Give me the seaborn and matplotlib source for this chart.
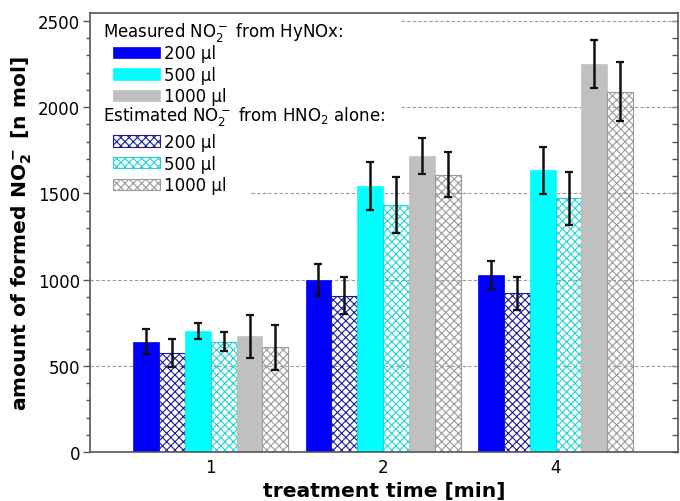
import matplotlib
matplotlib.use("Agg")
import matplotlib.pyplot as plt
from matplotlib.ticker import MultipleLocator
import pandas as pd
import seaborn as sns

# Treatment times (categories on the x axis)
times = ["1", "2", "4"]
volume_labels = ["200 µl", "500 µl", "1000 µl"]

# Measured NO2- from HyNOx [n mol]
measured_200 = [640, 997, 1026]
measured_500 = [702, 1541, 1633]
measured_1000 = [670, 1717, 2251]
measured_200_err = [72, 92, 83]
measured_500_err = [45, 138, 135]
measured_1000_err = [123, 104, 139]

# Estimated NO2- from HNO2 alone [n mol]
estimated_200 = [575, 907, 920]
estimated_500 = [640, 1430, 1471]
estimated_1000 = [607, 1608, 2089]
estimated_200_err = [80, 105, 97]
estimated_500_err = [55, 163, 155]
estimated_1000_err = [131, 130, 173]

series = {
    "m200": (measured_200, measured_200_err),
    "e200": (estimated_200, estimated_200_err),
    "m500": (measured_500, measured_500_err),
    "e500": (estimated_500, estimated_500_err),
    "m1000": (measured_1000, measured_1000_err),
    "e1000": (estimated_1000, estimated_1000_err),
}
series_order = list(series.keys())

# (solid?, colour) for each series
styles = {
    "m200": (True, "#0000ff"),
    "e200": (False, "#1c1c99"),
    "m500": (True, "#00ffff"),
    "e500": (False, "#1fd3d3"),
    "m1000": (True, "#c0c0c0"),
    "e1000": (False, "#9a9a9a"),
}

rows = []
for key in series_order:
    vals, errs = series[key]
    for t, v, e in zip(times, vals, errs):
        rows.append({"time": t, "series": key, "amount": v, "err": e})
df = pd.DataFrame(rows)

sns.set_theme(style="ticks")
plt.rcParams.update({
    "font.family": ["DejaVu Sans"],
    "text.color": "black",
    "axes.labelcolor": "black",
    "hatch.linewidth": 0.8,
    "axes.edgecolor": "#555555",
    "axes.linewidth": 1.2,
    "xtick.color": "#555555",
    "ytick.color": "#555555",
    "xtick.labelcolor": "black",
    "ytick.labelcolor": "black",
})

fig = plt.figure(figsize=(6.8, 5.02), dpi=100)
ax = fig.add_axes([90 / 680, 49 / 502, 588 / 680, 439 / 502])

palette = {k: (styles[k][1] if styles[k][0] else "white") for k in series_order}
sns.barplot(
    data=df, x="time", y="amount", hue="series",
    order=times, hue_order=series_order, palette=palette,
    width=0.9, saturation=1, errorbar=None, legend=False, ax=ax,
)

bar_containers = list(ax.containers)
for cont, key in zip(bar_containers, series_order):
    solid, color = styles[key]
    for bar in cont:
        if solid:
            bar.set_facecolor(color)
            bar.set_edgecolor(color)
            bar.set_linewidth(0.5)
        else:
            bar.set_facecolor("none")
            bar.set_edgecolor(color)
            bar.set_hatch("xxxx")
            bar.set_linewidth(0.8)
        bar.set_zorder(2)

# error bars on top of each bar
for cont, key in zip(bar_containers, series_order):
    errs = series[key][1]
    xs = [b.get_x() + b.get_width() / 2 for b in cont]
    ys = [b.get_height() for b in cont]
    ax.errorbar(xs, ys, yerr=errs, fmt="none", ecolor="#111111",
                elinewidth=1.8, capsize=3.2, capthick=1.6, zorder=3)

ax.set_xlim(-0.7, 2.71)
ax.set_ylim(0, 2545)
ax.yaxis.set_major_locator(MultipleLocator(500))
ax.yaxis.set_minor_locator(MultipleLocator(100))
ax.tick_params(axis="y", which="major", direction="out", length=5, width=1, labelsize=12, pad=2)
ax.tick_params(axis="y", which="minor", direction="out", length=3, width=1)
ax.tick_params(axis="x", length=0, labelsize=12, pad=4)
ax.tick_params(axis="y", right=False)

ax.set_axisbelow(True)
ax.yaxis.grid(True, which="major", linestyle=(0, (3, 2)), color="#9a9a9a", linewidth=0.8)
ax.xaxis.grid(False)

# inward ticks on the right-hand spine
sec = ax.secondary_yaxis("right")
sec.yaxis.set_major_locator(MultipleLocator(500))
sec.yaxis.set_minor_locator(MultipleLocator(100))
sec.tick_params(axis="y", which="both", direction="in", length=4, width=1, labelright=False)
sec.spines["right"].set_visible(False)

for s in ax.spines.values():
    s.set_visible(True)

ax.set_xlabel("treatment time [min]", fontsize=14.6, fontweight="bold", labelpad=4)
ax.set_ylabel(r"amount of formed $\mathbf{NO_2^-}$ [n mol]", fontsize=14.6,
              fontweight="bold", labelpad=3)

# legend: two blocks, each under a heading
def frac(py):
    return (453 - py) / 439

handles_m = [bar_containers[i] for i in (0, 2, 4)]
handles_e = [bar_containers[i] for i in (1, 3, 5)]
common = dict(fontsize=12, frameon=True, facecolor="white", edgecolor="none",
              framealpha=1, fancybox=False, handlelength=2.85, handleheight=0.65,
              handletextpad=0.25, labelspacing=0.22, borderpad=1.35,
              borderaxespad=0)
# blank title leaves room for the heading text drawn above the entries
leg_m = ax.legend(handles_m, volume_labels, loc="lower left", title=" ",
                  title_fontsize=12,
                  bbox_to_anchor=(0, frac(129), 310 / 588, 0), mode="expand", **common)
ax.add_artist(leg_m)
leg_e = ax.legend(handles_e, volume_labels, loc="center left",
                  bbox_to_anchor=(0, frac(164.5)), **common)
leg_m.set_zorder(2.4)
leg_e.set_zorder(2.4)

ax.text(13 / 588, frac(33), r"Measured NO$\mathregular{_2^-}$ from HyNOx:",
        transform=ax.transAxes, fontsize=12, ha="left", va="center", zorder=6)
ax.text(13 / 588, frac(117), r"Estimated NO$\mathregular{_2^-}$ from HNO$\mathregular{_2}$ alone:",
        transform=ax.transAxes, fontsize=12, ha="left", va="center", zorder=6)

fig.savefig("out.png", dpi=100)
